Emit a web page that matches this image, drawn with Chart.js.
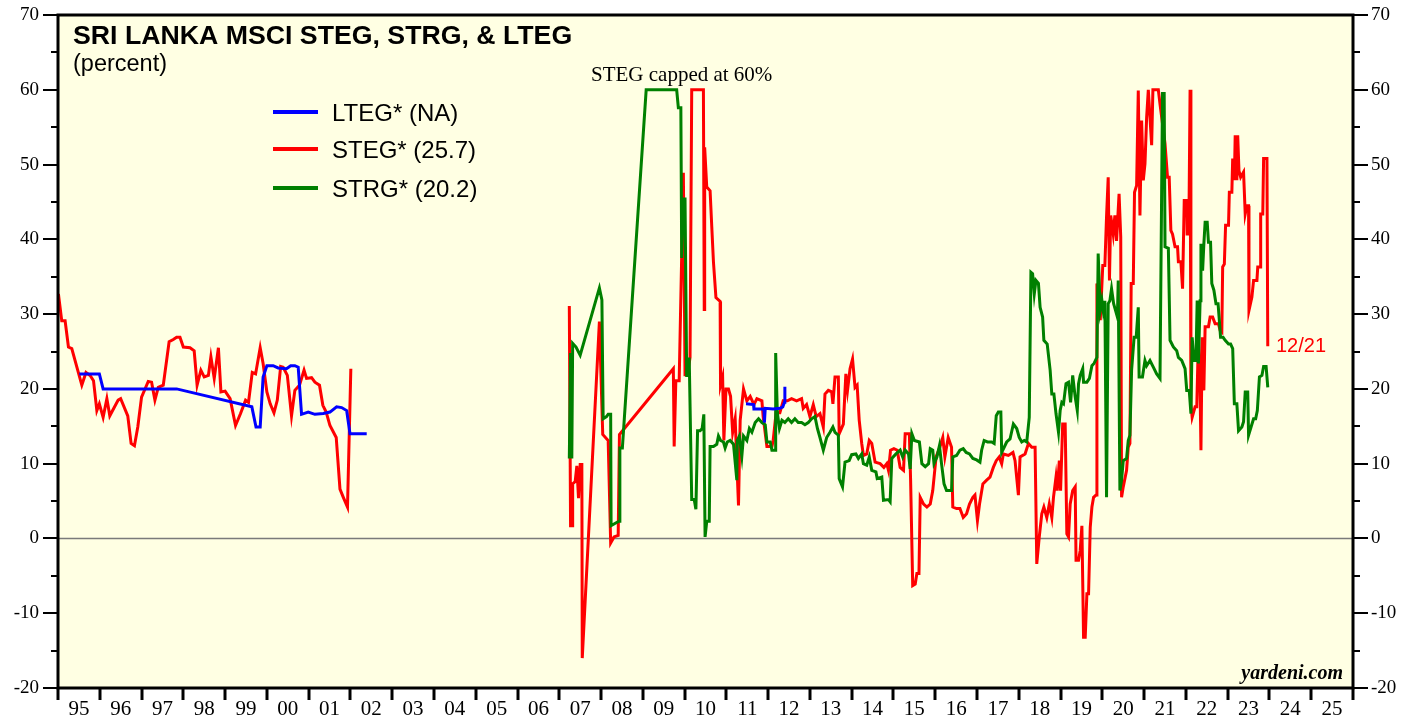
<!DOCTYPE html>
<html>
<head>
<meta charset="utf-8">
<script src="https://cdn.jsdelivr.net/npm/chart.js@4"></script>
<style>
html,body{margin:0;padding:0;background:#fff;}
#wrap{width:1419px;height:719px;position:relative;}
</style>
</head>
<body>
<div id="wrap"><canvas id="c" width="1419" height="719"></canvas></div>
<script>
// ---- Data (decimal years, percent) ----
const yearLabels = ['95','96','97','98','99','00','01','02','03','04','05','06','07','08','09','10','11','12','13','14','15','16','17','18','19','20','21','22','23','24','25'];
const seriesNames = ['LTEG* (NA)', 'STEG* (25.7)', 'STRG* (20.2)'];

const ltegYears = [1995.51,1995.99,1996.08,1997.84,1999.64,1999.74,1999.84,1999.91,2000.00,2000.15,2000.27,2000.47,2000.57,2000.67,2000.75,2000.83,2000.99,2001.15,2001.35,2001.51,2001.67,2001.79,2001.91,2001.99,2002.39,
  2007.00,
  2011.47,2011.65,2011.66,2011.90,2011.91,2011.93,2012.12,2012.28,2012.35,2012.39,2012.40];
const ltegValues = [22.0,22.0,20.0,20.0,17.6,14.9,14.9,21.6,23.1,23.1,22.8,22.7,23.1,23.1,22.9,16.6,16.9,16.6,16.7,16.9,17.6,17.5,17.1,14.0,14.0,
  null,
  18.0,17.9,17.3,17.3,15.5,17.4,17.3,17.4,17.6,18.2,20.3];

const stegYears = [
  1995.01,1995.09,1995.17,1995.25,1995.33,1995.57,1995.67,1995.77,1995.85,1995.93,1995.99,
  1996.08,1996.17,1996.24,1996.44,1996.50,1996.67,1996.75,1996.83,1996.91,
  1997.00,1997.16,1997.24,1997.32,1997.40,1997.52,1997.66,1997.76,1997.84,1997.92,
  1998.00,1998.16,1998.26,1998.33,1998.42,1998.50,1998.60,1998.66,1998.74,1998.84,1998.90,
  1999.00,1999.12,1999.25,1999.37,1999.49,1999.56,1999.65,1999.73,1999.84,1999.91,
  2000.00,2000.08,2000.17,2000.25,2000.33,2000.39,2000.49,2000.59,2000.67,2000.78,2000.89,2000.95,
  2001.07,2001.15,2001.26,2001.34,2001.42,2001.51,2001.66,2001.75,2001.83,2001.93,2002.01,
  2004.50,
  2007.24,2007.27,2007.31,2007.32,2007.38,2007.42,2007.46,2007.50,2007.54,2007.55,2007.96,2008.04,2008.17,2008.23,2008.31,2008.41,2008.44,
  2009.73,2009.75,2009.79,2009.87,2009.97,2010.01,2010.07,2010.13,2010.17,2010.45,2010.47,2010.48,2010.53,2010.61,2010.65,2010.69,2010.75,2010.85,2010.86,2010.91,2010.94,2010.99,
  2011.05,2011.10,2011.15,2011.21,2011.29,2011.33,2011.41,2011.49,2011.57,2011.66,2011.73,2011.85,2011.88,2011.97,2012.09,2012.12,2012.19,2012.28,2012.36,2012.46,2012.56,2012.68,2012.80,2012.84,2012.92,
  2013.00,2013.08,2013.15,2013.24,2013.32,2013.36,2013.44,2013.52,2013.55,2013.60,2013.68,2013.70,2013.80,2013.86,2013.90,2013.96,2014.02,2014.08,2014.13,2014.18,2014.24,2014.28,2014.36,2014.42,2014.48,2014.56,2014.68,2014.77,2014.84,2014.88,2014.93,
  2015.01,2015.09,2015.16,2015.24,2015.28,2015.38,2015.41,2015.46,2015.52,2015.56,2015.61,2015.64,2015.72,2015.80,2015.88,2015.94,2016.02,2016.11,2016.18,2016.23,2016.31,2016.39,2016.42,2016.51,2016.59,2016.67,2016.75,2016.82,2016.90,2016.95,
  2017.01,2017.06,2017.14,2017.23,2017.31,2017.39,2017.46,2017.53,2017.59,2017.63,2017.75,2017.86,2017.91,2017.99,2018.03,2018.15,2018.23,2018.31,2018.39,2018.43,2018.49,2018.55,2018.60,2018.67,2018.73,2018.79,2018.83,2018.89,2018.92,2018.97,
  2019.00,2019.05,2019.11,2019.15,2019.19,2019.23,2019.29,2019.35,2019.37,2019.43,2019.47,2019.51,2019.55,2019.59,2019.63,2019.67,2019.71,2019.75,2019.79,2019.85,2019.87,2019.95,
  2020.01,2020.06,2020.10,2020.14,2020.17,2020.20,2020.26,2020.30,2020.34,2020.40,2020.44,2020.46,2020.50,2020.58,2020.62,2020.66,2020.69,2020.74,2020.77,2020.82,2020.86,2020.90,2020.94,2020.98,
  2021.02,2021.06,2021.10,2021.14,2021.18,2021.21,2021.34,2021.38,2021.50,2021.56,2021.60,2021.64,2021.68,2021.74,2021.80,2021.82,2021.88,2021.92,2021.96,
  2022.02,2022.03,2022.07,2022.10,2022.12,2022.15,2022.22,2022.26,2022.30,2022.34,2022.36,2022.39,2022.43,2022.46,2022.54,2022.58,2022.64,2022.70,2022.78,2022.82,2022.86,2022.88,2022.92,2022.95,
  2023.02,2023.04,2023.10,2023.12,2023.16,2023.18,2023.22,2023.24,2023.27,2023.31,2023.38,2023.42,2023.46,2023.50,2023.51,2023.58,2023.62,2023.70,2023.72,2023.78,2023.79,2023.84,2023.86,2023.94,2023.96
];
const stegValues = [
  32.7,29.1,29.1,25.6,25.4,20.5,22.2,21.8,21.1,17.1,18.0,
  16.2,18.7,16.4,18.5,18.7,16.4,12.7,12.4,14.9,
  18.9,21.0,20.9,18.5,20.2,20.5,26.3,26.6,26.9,26.9,
  25.6,25.5,25.1,20.5,22.5,21.6,21.8,24.3,21.4,25.5,19.6,
  19.7,18.7,15.1,16.7,18.5,18.2,22.2,22.0,25.5,23.4,
  19.6,18.0,16.8,18.5,23.0,22.9,21.8,16.4,19.8,20.5,22.5,21.4,
  21.5,20.9,20.5,17.8,16.9,15.1,13.5,6.6,5.5,4.2,22.7,
  null,
  31.1,1.7,1.7,7.3,7.6,9.7,5.4,9.9,9.9,-16.0,29.0,13.9,13.1,-0.6,0.2,0.4,13.9,
  22.7,12.3,21.1,21.1,48.9,21.9,21.9,24.2,60,60,30.6,52.3,47.0,46.5,41.7,37.0,32.2,31.7,20.5,21.6,13.1,20.0,
  20.0,19.0,14.2,16.0,4.4,15.8,20.0,18.4,19.0,17.9,18.7,18.4,16.3,12.3,12.3,13.1,16.8,16.8,18.4,18.4,18.7,18.4,18.7,17.4,17.9,
  16.3,17.9,16.3,16.7,14.9,19.3,19.8,19.6,18.0,21.6,21.6,14.0,15.3,22.0,19.8,22.7,24.0,20.2,20.5,15.8,12.7,11.1,11.3,13.1,12.7,10.2,10.0,9.5,10.0,9.1,11.8,
  12.0,11.8,9.5,9.1,14.0,14.0,7.8,-6.3,-6.1,-4.7,-4.7,5.5,4.6,4.2,4.6,6.4,10.9,12.2,13.5,10.9,13.5,12.2,4.2,4.0,4.0,2.8,3.3,4.6,5.5,5.8,
  2.4,4.6,7.3,7.8,8.2,9.5,10.4,10.9,10.0,11.3,11.1,11.5,10.4,5.8,10.9,11.3,12.7,12.2,12.2,-3.4,0.2,3.3,4.2,2.8,4.6,2.8,5.5,8.2,6.4,10.4,
  6.4,15.3,15.3,0.6,0.2,4.6,6.4,6.9,-2.9,-2.9,-1.6,1.7,-13.2,-13.2,-7.4,-7.4,1.5,4.2,5.5,5.8,34.1,29.2,
  36.5,36.5,43.0,48.3,34.5,43.2,40.7,43.2,39.8,46.1,40.3,5.5,6.9,9.1,12.2,12.7,34.1,34.1,46.3,47.2,59.9,43.2,55.9,47.9,
  50.1,56.3,60,56.3,52.6,60,60,58.1,52.8,48.3,48.3,41.2,40.7,39.0,39.0,37.0,37.0,33.4,45.2,
  45.2,40.7,40.7,60,18.0,16.2,17.6,17.6,26.9,19.8,11.8,26.9,19.8,28.3,28.3,29.6,29.6,28.7,28.7,27.8,27.6,36.3,36.7,41.9,
  41.9,46.3,46.3,50.8,47.9,53.9,47.9,53.9,49.2,48.3,49.0,43.4,44.5,44.5,30.5,32.3,34.5,34.5,36.3,36.3,43.4,43.4,50.8,50.8,25.7
];

const strgYears = [
  2007.24,2007.27,2007.30,2007.32,2007.40,2007.50,2007.96,2008.02,2008.05,2008.13,2008.17,2008.23,2008.24,2008.33,2008.43,2008.45,2008.51,
  2009.08,2009.81,2009.85,2009.91,2009.93,2009.97,2010.01,2010.05,2010.11,2010.17,2010.23,2010.27,2010.31,2010.37,2010.42,2010.46,2010.49,2010.53,2010.59,2010.61,2010.69,2010.77,2010.81,2010.86,2010.93,2010.97,
  2011.02,2011.09,2011.17,2011.25,2011.26,2011.31,2011.37,2011.41,2011.49,2011.55,2011.61,2011.69,2011.77,2011.85,2011.93,2011.97,2012.05,2012.09,2012.17,2012.18,2012.22,2012.27,2012.33,2012.40,2012.48,2012.56,2012.64,2012.72,2012.80,2012.88,2012.96,
  2013.04,2013.12,2013.18,2013.24,2013.32,2013.40,2013.48,2013.55,2013.60,2013.68,2013.70,2013.78,2013.84,2013.94,2014.00,2014.10,2014.16,2014.24,2014.28,2014.36,2014.42,2014.48,2014.58,2014.61,2014.72,2014.76,2014.88,2014.92,2014.96,
  2015.06,2015.16,2015.22,2015.28,2015.36,2015.40,2015.44,2015.50,2015.62,2015.68,2015.76,2015.84,2015.88,2015.94,2015.97,2016.04,2016.10,2016.15,2016.21,2016.27,2016.39,2016.42,2016.51,2016.59,2016.67,2016.74,2016.82,2016.90,2016.99,
  2017.07,2017.11,2017.17,2017.25,2017.35,2017.41,2017.46,2017.51,2017.57,2017.59,2017.71,2017.79,2017.87,2017.95,2018.01,2018.07,2018.13,2018.19,2018.25,2018.29,2018.33,2018.37,2018.41,2018.47,2018.51,2018.57,2018.60,2018.68,2018.75,2018.79,2018.84,2018.89,2018.95,2018.99,
  2019.03,2019.07,2019.13,2019.19,2019.24,2019.29,2019.35,2019.40,2019.43,2019.47,2019.53,2019.55,2019.63,2019.69,2019.75,2019.80,2019.87,2019.90,2019.95,2019.99,
  2020.02,2020.06,2020.10,2020.14,2020.18,2020.22,2020.27,2020.34,2020.36,2020.38,2020.42,2020.46,2020.50,2020.58,2020.62,2020.66,2020.70,2020.76,2020.81,2020.86,2020.88,2020.96,
  2021.02,2021.06,2021.14,2021.22,2021.30,2021.38,2021.44,2021.48,2021.50,2021.58,2021.62,2021.70,2021.78,2021.82,2021.90,2021.98,
  2022.02,2022.08,2022.12,2022.15,2022.19,2022.24,2022.27,2022.30,2022.34,2022.36,2022.40,2022.43,2022.46,2022.51,2022.54,2022.59,2022.62,2022.67,2022.72,2022.77,2022.80,2022.83,2022.89,2022.94,
  2023.02,2023.07,2023.12,2023.16,2023.22,2023.26,2023.34,2023.38,2023.42,2023.48,2023.50,2023.56,2023.62,2023.67,2023.71,2023.76,2023.82,2023.86,2023.92,2023.96
];
const strgValues = [
  10.7,24.8,10.7,26.1,25.6,24.5,33.5,31.9,16.0,16.3,16.6,16.6,1.7,2.0,2.3,12.1,12.1,
  60,60,57.6,57.6,37.5,45.4,45.4,21.6,24.2,5.2,5.2,3.9,14.4,14.4,14.7,16.6,0.2,2.3,2.3,12.3,12.3,12.6,13.7,13.1,12.9,12.1,
  12.9,13.1,12.6,7.8,13.1,13.7,11.0,13.7,13.1,14.7,14.2,15.5,16.0,15.5,15.2,12.9,12.9,11.8,11.8,24.8,16.8,14.7,15.8,15.5,16.0,15.5,16.0,15.5,15.5,15.2,15.5,
  16.0,16.3,14.7,13.5,11.8,13.5,14.2,14.9,14.2,13.8,8.0,6.9,10.2,10.4,11.2,11.3,10.7,11.3,10.0,9.8,10.9,9.1,8.9,8.0,8.2,5.1,5.2,4.9,10.7,
  11.3,11.8,10.9,11.8,11.3,9.3,14.0,13.1,12.9,10.0,9.6,10.0,12.0,11.8,10.0,10.9,12.4,10.0,7.3,6.4,6.4,10.9,11.1,11.8,12.0,11.5,11.3,10.7,10.5,
  10.2,11.8,13.1,12.9,12.9,12.7,16.4,16.9,16.9,11.5,12.9,13.3,15.3,14.7,13.5,12.9,13.1,12.9,16.2,35.6,35.4,32.7,34.5,34.1,30.9,29.6,26.5,26.0,22.5,19.3,19.3,16.7,14.2,17.1,
  18.2,18.0,20.7,20.9,18.2,21.8,18.9,17.1,20.7,21.8,22.7,20.9,20.9,21.4,23.1,23.4,24.2,38.1,30.5,31.8,
  30.5,31.8,5.5,31.4,31.8,33.4,31.4,30.0,29.6,34.5,6.4,7.8,10.4,10.7,13.1,13.8,22.5,26.9,26.9,30.9,21.6,21.6,
  23.8,23.1,23.8,22.9,22.0,21.4,59.5,59.5,39.0,38.8,26.5,25.6,25.1,24.2,23.8,22.7,
  19.8,19.8,16.7,26.9,23.8,23.8,31.8,23.4,31.8,39.4,35.8,39.4,42.3,42.3,39.6,39.6,34.1,33.2,31.4,31.4,29.2,26.9,26.9,26.5,
  26.0,26.0,25.4,18.0,18.0,14.4,14.9,15.6,19.6,19.6,13.8,14.9,16.0,16.0,17.1,21.6,21.8,23.0,23.0,20.2
];

// ---- helpers ----
function pts(xs, ys){ return xs.map((x,i)=>({x:x, y:ys[i]})); }

const COLORS = {lteg:'#0000ff', steg:'#ff0000', strg:'#008000'};
const SANS = '"Liberation Sans", Arial, sans-serif';
const SERIF = '"Liberation Serif", "Times New Roman", serif';

const deco = {
  id:'deco',
  beforeDraw(chart){
    const {ctx, chartArea:a} = chart;
    ctx.save();
    ctx.fillStyle = '#ffffff';
    ctx.fillRect(0,0,chart.width,chart.height);
    ctx.fillStyle = '#ffffe3';
    ctx.fillRect(a.left,a.top,a.right-a.left,a.bottom-a.top);
    ctx.restore();
  },
  beforeDatasetsDraw(chart){
    const {ctx, chartArea:a, scales} = chart;
    const y0 = scales.y.getPixelForValue(0);
    ctx.save();
    ctx.strokeStyle = '#7a7a7a';
    ctx.lineWidth = 1.5;
    ctx.beginPath(); ctx.moveTo(a.left,y0); ctx.lineTo(a.right,y0); ctx.stroke();
    ctx.restore();
  },
  afterDatasetsDraw(chart){
    const {ctx, chartArea:a, scales} = chart;
    ctx.save();
    // frame
    ctx.strokeStyle = '#000'; ctx.lineWidth = 3;
    ctx.strokeRect(a.left, a.top, a.right-a.left, a.bottom-a.top);
    // y ticks (major every 10, minor every 5) on both sides
    ctx.lineWidth = 2;
    const ys = scales.y;
    for (let v = ys.min; v <= ys.max; v += 5) {
      const py = Math.round(ys.getPixelForValue(v));
      const len = (v % 10 === 0) ? 15 : 7;
      ctx.beginPath(); ctx.moveTo(a.left - len, py); ctx.lineTo(a.left, py); ctx.stroke();
      ctx.beginPath(); ctx.moveTo(a.right, py); ctx.lineTo(a.right + len, py); ctx.stroke();
    }
    // x ticks at year boundaries
    const xs = scales.x;
    ctx.lineWidth = 3;
    for (let yr = xs.min; yr <= xs.max; yr += 1) {
      const px = Math.round(xs.getPixelForValue(yr));
      ctx.beginPath(); ctx.moveTo(px, a.bottom); ctx.lineTo(px, a.bottom + 12); ctx.stroke();
    }
    // title
    ctx.fillStyle = '#000';
    ctx.textBaseline = 'alphabetic';
    ctx.textAlign = 'left';
    ctx.font = 'bold 26.7px ' + SANS;
    ctx.fillText('SRI LANKA MSCI STEG, STRG, & LTEG', 73, 44);
    ctx.font = '23.5px ' + SANS;
    ctx.fillText('(percent)', 73, 71);
    // legend
    const legendRows = [
      {name: seriesNames[0], color: COLORS.lteg, ly: 112, ty: 121},
      {name: seriesNames[1], color: COLORS.steg, ly: 149, ty: 158},
      {name: seriesNames[2], color: COLORS.strg, ly: 188, ty: 197}
    ];
    ctx.font = '24px ' + SANS;
    legendRows.forEach(r => {
      ctx.strokeStyle = r.color; ctx.lineWidth = 4;
      ctx.beginPath(); ctx.moveTo(273, r.ly); ctx.lineTo(318, r.ly); ctx.stroke();
      ctx.fillStyle = '#000';
      ctx.fillText(r.name, 332, r.ty);
    });
    // annotation
    ctx.font = '21px ' + SERIF;
    ctx.fillStyle = '#000';
    ctx.fillText('STEG capped at 60%', 591, 81);
    // end label
    ctx.font = '20px ' + SANS;
    ctx.fillStyle = '#ff0000';
    ctx.textBaseline = 'middle';
    ctx.fillText('12/21', 1276, 346);
    // source
    ctx.textBaseline = 'alphabetic';
    ctx.textAlign = 'right';
    ctx.fillStyle = '#000';
    ctx.font = 'italic bold 20px ' + SERIF;
    ctx.fillText('yardeni.com', 1343, 679);
    ctx.restore();
  }
};

const lineBase = {borderWidth:3, pointRadius:0, tension:0, spanGaps:false, fill:false};

function fitY(width){
  return function(s){ s.width = width; s.paddingTop = 0; s.paddingBottom = 0; };
}

new Chart(document.getElementById('c'), {
  type:'line',
  data:{
    datasets:[
      Object.assign({label: seriesNames[0], data: pts(ltegYears, ltegValues), borderColor: COLORS.lteg}, lineBase),
      Object.assign({label: seriesNames[2], data: pts(strgYears, strgValues), borderColor: COLORS.strg}, lineBase),
      Object.assign({label: seriesNames[1], data: pts(stegYears, stegValues), borderColor: COLORS.steg}, lineBase)
    ]
  },
  options:{
    responsive:false,
    animation:false,
    devicePixelRatio:1,
    layout:{padding:{top:15,left:0,right:0,bottom:0}},
    plugins:{legend:{display:false}, tooltip:{enabled:false}, title:{display:false}},
    scales:{
      x:{
        type:'linear', min:1995, max:2026,
        grid:{display:false, drawTicks:false}, border:{display:false},
        afterBuildTicks(s){ s.ticks = yearLabels.map((l,i)=>({value:1995.5+i})); },
        ticks:{autoSkip:false, maxRotation:0, minRotation:0, padding:9, color:'#000',
          font:{family:SERIF, size:21},
          callback:(v,i)=>yearLabels[i]},
        afterFit(s){ s.height = 31; s.paddingLeft = 0; s.paddingRight = 0; }
      },
      y:{
        type:'linear', position:'left', min:-20, max:70,
        grid:{display:false, drawTicks:false}, border:{display:false},
        ticks:{stepSize:10, padding:19, color:'#000', font:{family:SERIF, size:19}},
        afterFit: fitY(58)
      },
      y2:{
        type:'linear', position:'right', min:-20, max:70,
        grid:{display:false, drawTicks:false}, border:{display:false},
        ticks:{stepSize:10, padding:18, color:'#000', font:{family:SERIF, size:19}},
        afterFit: fitY(66)
      }
    }
  },
  plugins:[deco]
});
</script>
</body>
</html>
